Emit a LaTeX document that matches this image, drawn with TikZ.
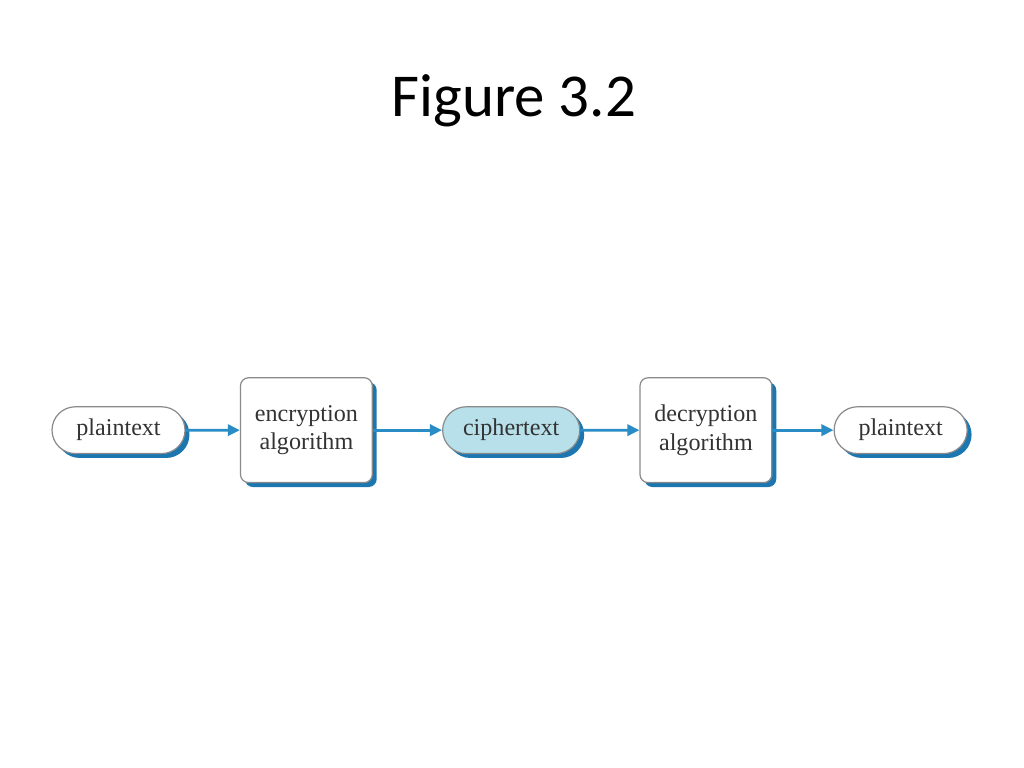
\documentclass[tikz,border=0pt]{standalone}
\usepackage{fontspec}
\setmainfont{Liberation Serif}
\newfontfamily\slidefont{Carlito}
\usepackage{tikz}
\usetikzlibrary{arrows.meta}
\usetikzlibrary{shapes.misc, shadows}

\definecolor{flowblue}{HTML}{2A8CC4}
\definecolor{shadeblue}{HTML}{1C76B0}
\definecolor{cipherfill}{HTML}{B8E0EA}
\definecolor{rimgrey}{HTML}{8A8A8A}

\begin{document}
\begin{tikzpicture}[node distance=4.83cm,line width=0.7mm,
	pill/.style={rounded rectangle,draw=rimgrey,line width=0.3mm,fill=white,
		minimum width=3.5cm,minimum height=1.16cm,inner sep=1mm,text=black!80,
		font=\fontsize{17}{20}\selectfont,
		drop shadow={shadow xshift=1.1mm,shadow yshift=-1.1mm,fill=shadeblue,opacity=1}},
	algo/.style={pill,rectangle,rounded corners=2mm,minimum width=3.27cm,
		minimum height=2.6cm,align=center},
	flow/.style={-{Triangle[length=3mm,width=2.8mm]},draw=flowblue}]
\useasboundingbox (0,0) rectangle (25.4,-19.05);

\node[font=\slidefont\fontsize{43}{50}\selectfont,anchor=base] (title) at (12.75,-2.88) {Figure 3.2};

\node[pill] (plain1) at (2.94,-10.67) {plaintext};
\node[algo] (enc) [right of=plain1, node distance=4.66cm] {encryption\\algorithm};
\node[pill,fill=cipherfill,minimum width=3.6cm] (cipher) [right of=enc, node distance=5.08cm] {ciphertext};
\node[algo] (dec) [right of=cipher] {decryption\\algorithm};
\node[pill] (plain2) [right of=dec] {plaintext};

\path (plain1) edge[flow] (enc)
	(enc) edge[flow] (cipher)
	(cipher) edge[flow] (dec)
	(dec) edge[flow] (plain2)
;
\end{tikzpicture}
\end{document}
